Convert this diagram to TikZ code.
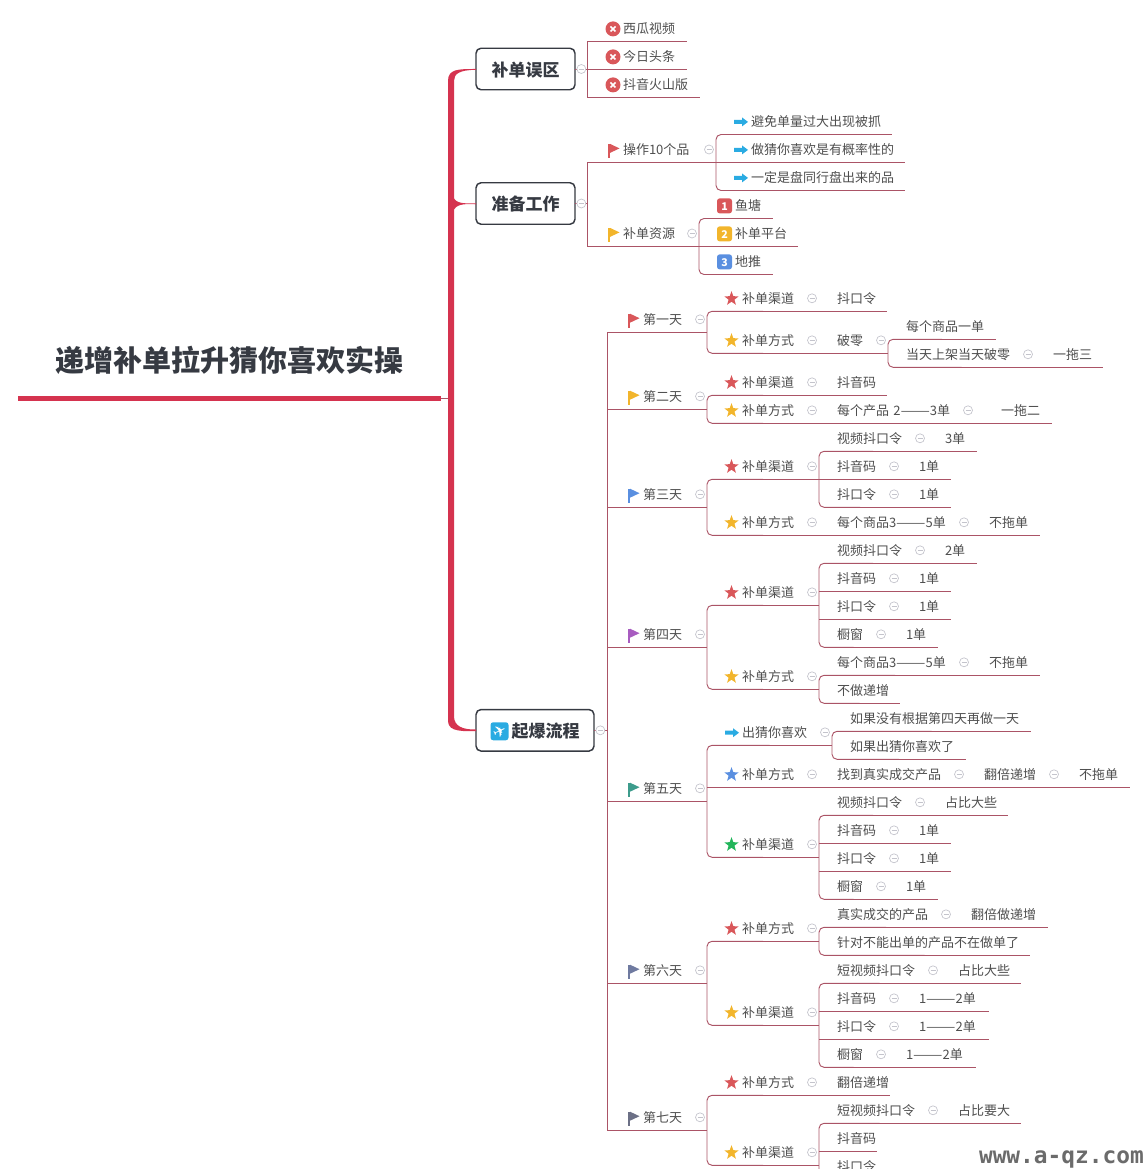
\documentclass[tikz,border=0pt]{standalone}
\usepackage{fontspec}
\usepackage{amssymb}
\setmainfont{Noto Sans CJK SC}
\newfontfamily\symfont{DejaVu Sans}
\newfontfamily\markfont{DejaVu Sans Mono}
\usetikzlibrary{positioning}

\newdimen\px \px=0.75pt
\definecolor{bigred}{HTML}{D5334F}
\definecolor{linkred}{HTML}{AB5466}
\definecolor{topicgray}{HTML}{4E4E4E}
\definecolor{boxdark}{HTML}{363A42}
\definecolor{btngray}{HTML}{C4C4CC}
\definecolor{fred}{HTML}{D9575A}
\definecolor{fyellow}{HTML}{F2B52C}
\definecolor{fblue}{HTML}{5A8FE0}
\definecolor{fpurple}{HTML}{A85CC0}
\definecolor{fteal}{HTML}{3D9C8C}
\definecolor{fslate}{HTML}{6F7AA0}
\definecolor{fgray}{HTML}{6C7086}
\definecolor{fgreen}{HTML}{22B55A}
\definecolor{farrow}{HTML}{2AABE2}

\newcommand{\iconbox}[2]{\tikz[x=0.75pt,y=0.75pt,baseline=0pt]{\useasboundingbox (0,0) rectangle (#1,1); #2}}
\newcommand{\flagicon}[1]{\iconbox{18}{\fill[#1] (3,-3) rectangle (5,11); \fill[#1] (5,11) -- (14.5,6.5) -- (5,2) -- cycle;}}
\newcommand{\staricon}[1]{\iconbox{17}{\fill[#1,shift={(6.5,5)}] (90:7.5) -- (126:3.1) -- (162:7.5) -- (198:3.1) -- (234:7.5) -- (270:3.1) -- (306:7.5) -- (342:3.1) -- (18:7.5) -- (54:3.1) -- cycle;}}
\newcommand{\arrowicon}{\iconbox{17}{\fill[farrow] (0,3) -- (8,3) -- (8,0.5) -- (14,5) -- (8,9.5) -- (8,7) -- (0,7) -- cycle;}}
\newcommand{\badicon}{\iconbox{18}{\fill[fred] (8,5) circle (7.5); \draw[white,line width=1.2pt] (5.5,2.5) -- (10.5,7.5) (5.5,7.5) -- (10.5,2.5);}}
\newcommand{\numicon}[2]{\iconbox{18}{\fill[#1,rounded corners=2] (0,-2.5) rectangle (15,12.5);}\hspace*{-18\px}\makebox[15\px]{\color{white}\fontsize{8}{8}\selectfont\bfseries\raisebox{0.4pt}{#2}}\hspace*{3\px}}
\newcommand{\planeicon}{\iconbox{21}{\fill[farrow,rounded corners=2] (0,-2.5) rectangle (18,15.5); \node[text=white,inner sep=0pt,rotate=25,font=\fontsize{12}{12}\symfont] (plane) at (9,6.5) {✈};}}
\newcommand{\longdash}{\scalebox{1.35}[1]{——}}

\tikzset{
  link/.style={draw=linkred,line width=0.7pt},
  trunk/.style={link,rounded corners=5\px},
  plain/.style={anchor=south west,inner xsep=0pt,inner ysep=0pt,outer sep=0pt,text width=#1\px,text height=10pt,text depth=5.7pt,
    font=\fontsize{9.75}{12}\selectfont,text=topicgray,execute at begin node=\hspace*{18\px}},
  topic/.style={plain=#1,append after command={(\tikzlastnode.south west) edge[link] (\tikzlastnode.south east)}},
  rtopic/.style={plain=#1,append after command={(\tikzlastnode.south west) edge[link,shorten <=5\px] (\tikzlastnode.south east)}},
  foldbtn/.style={circle,draw=btngray,fill=white,line width=0.5pt,inner sep=0pt,minimum size=9\px,
    path picture={\draw[btngray,line width=0.5pt] ([xshift=-2.5\px]path picture bounding box.center) -- ([xshift=2.5\px]path picture bounding box.center);}},
  fold/.style={append after command={node[foldbtn] (\tikzlastnode_f) at ([shift={(-7,-13)}]\tikzlastnode.south east) {}}},
  row/.style={below=28\px of #1.south west},
  follow/.style={at=(#1.south east)},
  mainbox/.style={draw=boxdark,line width=1.1pt,fill=white,rounded corners=5\px,minimum width=99\px,minimum height=41.5\px,
    inner sep=0pt,outer sep=0pt,text height=11.2pt,text depth=0pt,text=boxdark,font=\fontsize{12.75}{15}\selectfont\bfseries},
  rootnode/.style={anchor=south west,inner sep=0pt,outer sep=0pt,text width=423\px,align=center,text height=20pt,text depth=20pt,
    text=boxdark,font=\fontsize{21.75}{26}\selectfont\bfseries,
    append after command={(\tikzlastnode.south west) edge[draw=bigred,line width=4.4pt] (\tikzlastnode.south east)}}
}

\begin{document}
\begin{tikzpicture}[x=0.75pt,y=-0.75pt]
  \clip (0,0) rectangle (1144,1169);
  % root and thick branches
  \node[rootnode] (root) at (18,398.5) {递增补单拉升猜你喜欢实操};
  \node[coordinate,right=10\px of root.south east] (rail) {};
  \draw[link] (root.south east) -- (rail);
  \node[mainbox] (wq) at (525.5,69) {补单误区};
  \node[mainbox] (zb) at (525.5,203.5) {准备工作};
  \node[mainbox,minimum width=118\px] (qb) at (535,730.3) {\planeicon 起爆流程};
  \coordinate (rail_t) at (rail |- wq.west);
  \coordinate (rail_m) at (rail |- zb.west);
  \coordinate (rail_b) at (rail |- qb.west);
  \fill[bigred] (wq.west) .. controls ([xshift=-18\px]wq.west) and ([shift={(-3,0)}]rail_t) .. ([shift={(-3,12)}]rail_t)
    -- ([shift={(-3,-10)}]rail_b) .. controls ([shift={(-3,-1)}]rail_b) and ([shift={(4,1.5)}]rail_b) .. ([yshift=-0.8\px]qb.west)
    -- ([yshift=0.8\px]qb.west) .. controls ([shift={(12,-0.5)}]rail_b) and ([shift={(3,-4)}]rail_b) .. ([shift={(3,-14)}]rail_b)
    -- ([shift={(3,12)}]rail_t) .. controls ([shift={(3,5)}]rail_t) and ([shift={(8,1)}]rail_t) .. ([yshift=-0.8\px]wq.west) -- cycle;
  \fill[bigred] (zb.west) .. controls ([xshift=-14\px]zb.west) and ([shift={(5,0)}]rail_m) .. ([shift={(2,-7)}]rail_m)
    -- ([shift={(2,8)}]rail_m) .. controls ([shift={(5,1)}]rail_m) and ([xshift=-14\px]zb.west) .. ([yshift=-0.8\px]zb.west) -- cycle;

  % wrong channels
  \node[coordinate,right=12\px of wq] (wq_t) {};
  \node[above=27.5\px of wq_t,topic=100] (wq1) {\badicon 西瓜视频};
  \node[row=wq1,topic=100] (wq2) {\badicon 今日头条};
  \node[row=wq2,topic=113] (wq3) {\badicon 抖音火山版};
  \draw[link] (wq.east) -- (wq_t);
  \draw[link] (wq1.south west) -- (wq3.south west);
  \node[foldbtn] (wq_f) [right=1.5\px of wq] {};

  % preparation
  \node[coordinate,right=12\px of zb] (zb_t) {};
  \node[above=41\px of zb_t,topic=129,fold] (zb1) {\flagicon{fred}操作10个品};
  \node[above=28\px of zb1.south east,rtopic=176] (zb1a) {\arrowicon 避免单量过大出现被抓};
  \node[row=zb1a,topic=189] (zb1b) {\arrowicon 做猜你喜欢是有概率性的};
  \node[row=zb1b,rtopic=189] (zb1c) {\arrowicon 一定是盘同行盘出来的品};
  \node[below=84\px of zb1.south west,topic=112,fold] (zb2) {\flagicon{fyellow}补单资源};
  \node[above=28\px of zb2.south east,rtopic=74] (zb2a) {\numicon{fred}{1}鱼塘};
  \node[row=zb2a,topic=99] (zb2b) {\numicon{fyellow}{2}补单平台};
  \node[row=zb2b,rtopic=74] (zb2c) {\numicon{fblue}{3}地推};
  \draw[link] (zb.east) -- (zb_t);
  \draw[link] (zb1.south west) -- (zb2.south west);
  \draw[trunk] (zb1a.south) -- (zb1a.south west) -- (zb1c.south west) -- (zb1c.south);
  \draw[trunk] (zb2a.south) -- (zb2a.south west) -- (zb2c.south west) -- (zb2c.south);
  \node[foldbtn] (zb_f) [right=1.5\px of zb] {};

  % days
  \node[coordinate,right=13\px of qb] (qb_t) {};
  \node[above=398\px of qb_t,topic=100,fold] (d1) {\flagicon{fred}第一天};
  \node[below=77\px of d1.south west,topic=100,fold] (d2) {\flagicon{fyellow}第二天};
  \node[below=98\px of d2.south west,topic=100,fold] (d3) {\flagicon{fblue}第三天};
  \node[below=140\px of d3.south west,topic=100,fold] (d4) {\flagicon{fpurple}第四天};
  \node[below=154\px of d4.south west,topic=100,fold] (d5) {\flagicon{fteal}第五天};
  \node[below=182\px of d5.south west,topic=100,fold] (d6) {\flagicon{fslate}第六天};
  \node[below=147\px of d6.south west,topic=100,fold] (d7) {\flagicon{fgray}第七天};
  \draw[link] (qb.east) -- (qb_t);
  \draw[link] (d1.south west) -- (d7.south west);
  \node[foldbtn] (qb_f) [right=1.5\px of qb] {};

  % day one
  \node[above=21\px of d1.south east,rtopic=112,fold] (d1a) {\staricon{fred}补单渠道};
  \node[follow=d1a,topic=68] (d1a1) {抖口令};
  \node[below=42\px of d1a.south west,rtopic=112,fold] (d1b) {\staricon{fyellow}补单方式};
  \node[follow=d1b,topic=69,fold] (d1b1) {破零};
  \node[above=14\px of d1b1.south east,rtopic=108] (d1b1a) {每个商品一单};
  \node[row=d1b1a,rtopic=147,fold] (d1b1b) {当天上架当天破零};
  \node[follow=d1b1b,topic=68] (d1b1c) {一拖三};
  \draw[trunk] (d1a.south) -- (d1a.south west) -- (d1b.south west) -- (d1b.south);
  \draw[trunk] (d1b1a.south) -- (d1b1a.south west) -- (d1b1b.south west) -- (d1b1b.south);

  % day two
  \node[above=14\px of d2.south east,rtopic=112,fold] (d2a) {\staricon{fred}补单渠道};
  \node[follow=d2a,topic=68] (d2a1) {抖音码};
  \node[row=d2a,rtopic=112,fold] (d2b) {\staricon{fyellow}补单方式};
  \node[follow=d2b,topic=156,fold] (d2b1) {每个产品 2\longdash 3单};
  \node[follow=d2b1,topic=77] (d2b2) {\hspace*{8\px}一拖二};
  \draw[trunk] (d2a.south) -- (d2a.south west) -- (d2b.south west) -- (d2b.south);

  % day three
  \node[above=28\px of d3.south east,rtopic=112,fold] (d3a) {\staricon{fred}补单渠道};
  \node[above=28\px of d3a.south east,rtopic=108,fold] (d3a1) {视频抖口令};
  \node[follow=d3a1,topic=50] (d3a1v) {3单};
  \node[row=d3a1,topic=82,fold] (d3a2) {抖音码};
  \node[follow=d3a2,topic=50] (d3a2v) {1单};
  \node[row=d3a2,rtopic=82,fold] (d3a3) {抖口令};
  \node[follow=d3a3,topic=50] (d3a3v) {1单};
  \node[below=56\px of d3a.south west,rtopic=112,fold] (d3b) {\staricon{fyellow}补单方式};
  \node[follow=d3b,topic=152,fold] (d3b1) {每个商品3\longdash 5单};
  \node[follow=d3b1,topic=69] (d3b2) {不拖单};
  \draw[trunk] (d3a.south) -- (d3a.south west) -- (d3b.south west) -- (d3b.south);
  \draw[trunk] (d3a1.south) -- (d3a1.south west) -- (d3a3.south west) -- (d3a3.south);

  % day four
  \node[above=42\px of d4.south east,rtopic=112,fold] (d4a) {\staricon{fred}补单渠道};
  \node[above=42\px of d4a.south east,rtopic=108,fold] (d4a1) {视频抖口令};
  \node[follow=d4a1,topic=50] (d4a1v) {2单};
  \node[row=d4a1,topic=82,fold] (d4a2) {抖音码};
  \node[follow=d4a2,topic=50] (d4a2v) {1单};
  \node[row=d4a2,topic=82,fold] (d4a3) {抖口令};
  \node[follow=d4a3,topic=50] (d4a3v) {1单};
  \node[row=d4a3,rtopic=69,fold] (d4a4) {橱窗};
  \node[follow=d4a4,topic=50] (d4a4v) {1单};
  \node[below=84\px of d4a.south west,rtopic=112,fold] (d4b) {\staricon{fyellow}补单方式};
  \node[above=14\px of d4b.south east,rtopic=152,fold] (d4b1) {每个商品3\longdash 5单};
  \node[follow=d4b1,topic=69] (d4b1v) {不拖单};
  \node[row=d4b1,rtopic=81] (d4b2) {不做递增};
  \draw[trunk] (d4a.south) -- (d4a.south west) -- (d4b.south west) -- (d4b.south);
  \draw[trunk] (d4a1.south) -- (d4a1.south west) -- (d4a4.south west) -- (d4a4.south);
  \draw[trunk] (d4b1.south) -- (d4b1.south west) -- (d4b2.south west) -- (d4b2.south);

  % day five
  \node[above=56\px of d5.south east,rtopic=125,fold] (d5a) {\arrowicon 出猜你喜欢};
  \node[above=14\px of d5a.south east,rtopic=199] (d5a1) {如果没有根据第四天再做一天};
  \node[row=d5a1,rtopic=134] (d5a2) {如果出猜你喜欢了};
  \node[below=42\px of d5a.south west,topic=112,fold] (d5b) {\staricon{fblue}补单方式};
  \node[follow=d5b,topic=147,fold] (d5b1) {找到真实成交产品};
  \node[follow=d5b1,topic=95,fold] (d5b2) {翻倍递增};
  \node[follow=d5b2,topic=69] (d5b3) {不拖单};
  \node[below=70\px of d5b.south west,rtopic=112,fold] (d5c) {\staricon{fgreen}补单渠道};
  \node[above=42\px of d5c.south east,rtopic=108,fold] (d5c1) {视频抖口令};
  \node[follow=d5c1,topic=81] (d5c1v) {占比大些};
  \node[row=d5c1,topic=82,fold] (d5c2) {抖音码};
  \node[follow=d5c2,topic=50] (d5c2v) {1单};
  \node[row=d5c2,topic=82,fold] (d5c3) {抖口令};
  \node[follow=d5c3,topic=50] (d5c3v) {1单};
  \node[row=d5c3,rtopic=69,fold] (d5c4) {橱窗};
  \node[follow=d5c4,topic=50] (d5c4v) {1单};
  \draw[trunk] (d5a.south) -- (d5a.south west) -- (d5c.south west) -- (d5c.south);
  \draw[trunk] (d5a1.south) -- (d5a1.south west) -- (d5a2.south west) -- (d5a2.south);
  \draw[trunk] (d5c1.south) -- (d5c1.south west) -- (d5c4.south west) -- (d5c4.south);

  % day six
  \node[above=42\px of d6.south east,rtopic=112,fold] (d6a) {\staricon{fred}补单方式};
  \node[above=14\px of d6a.south east,rtopic=134,fold] (d6a1) {真实成交的产品};
  \node[follow=d6a1,topic=95] (d6a1v) {翻倍做递增};
  \node[row=d6a1,rtopic=211] (d6a2) {针对不能出单的产品不在做单了};
  \node[below=84\px of d6a.south west,rtopic=112,fold] (d6b) {\staricon{fyellow}补单渠道};
  \node[above=42\px of d6b.south east,rtopic=121,fold] (d6b1) {短视频抖口令};
  \node[follow=d6b1,topic=81] (d6b1v) {占比大些};
  \node[row=d6b1,topic=82,fold] (d6b2) {抖音码};
  \node[follow=d6b2,topic=88] (d6b2v) {1\longdash 2单};
  \node[row=d6b2,topic=82,fold] (d6b3) {抖口令};
  \node[follow=d6b3,topic=88] (d6b3v) {1\longdash 2单};
  \node[row=d6b3,rtopic=69,fold] (d6b4) {橱窗};
  \node[follow=d6b4,topic=88] (d6b4v) {1\longdash 2单};
  \draw[trunk] (d6a.south) -- (d6a.south west) -- (d6b.south west) -- (d6b.south);
  \draw[trunk] (d6a1.south) -- (d6a1.south west) -- (d6a2.south west) -- (d6a2.south);
  \draw[trunk] (d6b1.south) -- (d6b1.south west) -- (d6b4.south west) -- (d6b4.south);

  % day seven, cut off by the page
  \node[above=35\px of d7.south east,rtopic=112,fold] (d7a) {\staricon{fred}补单方式};
  \node[follow=d7a,topic=71] (d7a1) {翻倍递增};
  \node[below=70\px of d7a.south west,rtopic=112,fold] (d7b) {\staricon{fyellow}补单渠道};
  \node[above=42\px of d7b.south east,rtopic=121,fold] (d7b1) {短视频抖口令};
  \node[follow=d7b1,topic=81] (d7b1v) {占比要大};
  \node[row=d7b1,topic=58] (d7b2) {抖音码};
  \node[row=d7b2,plain=58] (d7b3) {抖口令};
  \draw[trunk] (d7a.south) -- (d7a.south west) -- (d7b.south west) -- (d7b.south);
  \draw[trunk] (d7b1.south) -- (d7b1.south west) -- (d7b3.south west);

  \node[anchor=base east,inner sep=0pt,text=black!58,font=\fontsize{17.1}{18}\markfont\bfseries] (mark) at (1144,1163.7) {www.a-qz.com};
\end{tikzpicture}
\end{document}
